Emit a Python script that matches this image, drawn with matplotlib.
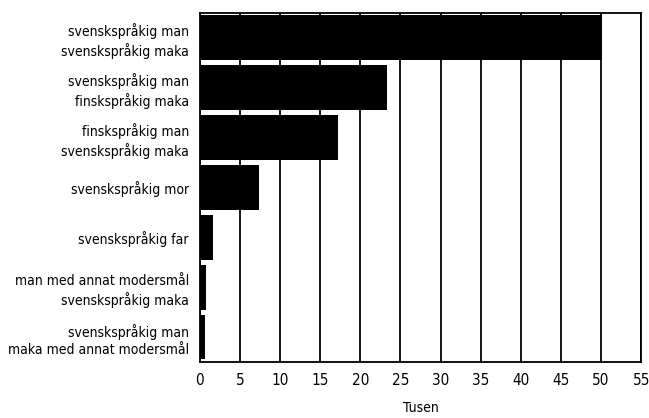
import matplotlib
matplotlib.use('Agg')
import matplotlib.pyplot as plt

# categories from top to bottom
labels = ['svenskspråkig man\nsvenskspråkig maka',
          'svenskspråkig man\nfinskspråkig maka',
          'finskspråkig man\nsvenskspråkig maka',
          'svenskspråkig mor',
          'svenskspråkig far',
          'man med annat modersmål\nsvenskspråkig maka',
          'svenskspråkig man\nmaka med annat modersmål']
values = [50.1, 23.3, 17.2, 7.4, 1.6, 0.7, 0.6]  # tusen
xticks = list(range(0, 56, 5))

plt.rcParams['font.family'] = ['DejaVu Sans']
plt.rcParams['font.stretch'] = 'condensed'

fig = plt.figure(figsize=(6.49, 4.18), dpi=100)
ax = fig.add_axes([0.308, 0.134, 0.68, 0.835])

ypos = list(range(len(values)))
ax.barh(ypos, values, height=0.9, color='black', zorder=3)
ax.set_yticks(ypos)
ax.set_yticklabels(labels, fontsize=10, linespacing=1.3)
ax.set_ylim(len(values) - 0.5, -0.5)
ax.set_xlim(0, 55)
ax.set_xticks(xticks)
ax.set_xticklabels([str(t) for t in xticks], fontsize=11)
ax.tick_params(length=0, pad=8)
ax.tick_params(axis='x', pad=8)
ax.grid(axis='x', color='black', linewidth=1.3, zorder=1)
for s in ax.spines.values():
    s.set_linewidth(1.3)
ax.set_xlabel('Tusen', fontsize=10, labelpad=9)

fig.savefig('out.png', dpi=100)
